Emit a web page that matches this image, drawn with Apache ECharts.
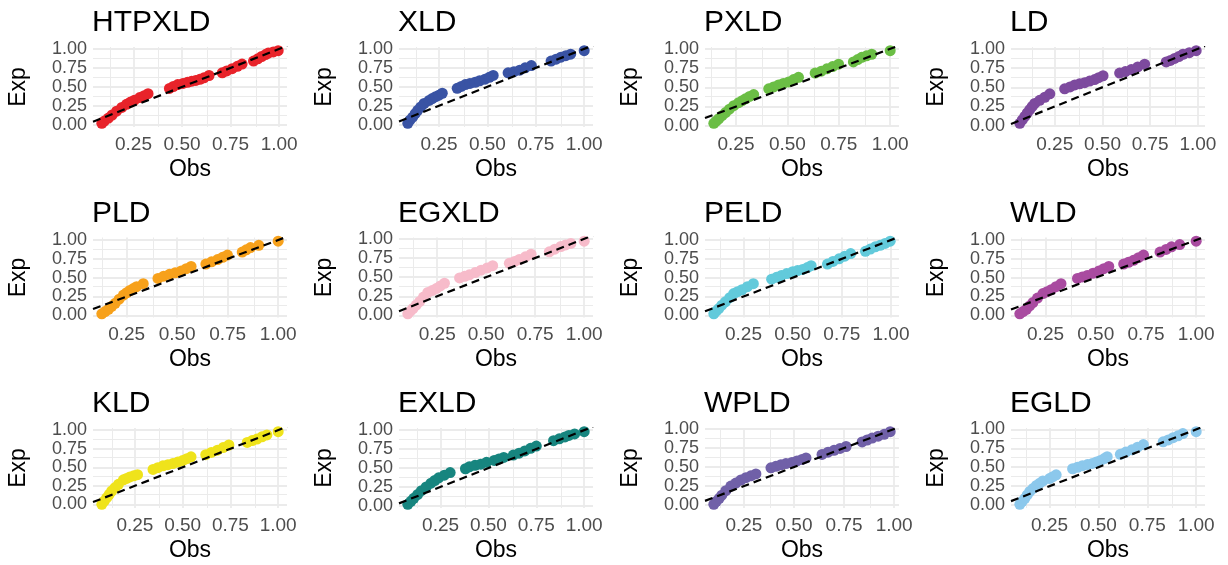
<!DOCTYPE html>
<html>
<head>
    <meta charset="utf-8">
    <title>P-P plots</title>
    <style>
        html, body { margin: 0; padding: 0; background: #fff; }
        #main { width: 1228px; height: 565px; }
    </style>
</head>
<body>
    <div id="main"></div>
    <script src="https://cdn.jsdelivr.net/npm/echarts@6/dist/echarts.min.js"></script>
    <script>
// panel names and point colours
var panelNames = ['HTPXLD', 'XLD', 'PXLD', 'LD', 'PLD', 'EGXLD', 'PELD', 'WLD', 'KLD', 'EXLD', 'WPLD', 'EGLD'];
var panelColors = ['#E8232A', '#3953A4', '#6BBE45', '#7D4A9E', '#F7A11B', '#F7BBCA', '#62CADB', '#A94BA0', '#EFE31B', '#17857F', '#7060A8', '#8CC8EC'];

// tick labels
var xTicks = [0.25, 0.5, 0.75, 1];
var yTicks = [0, 0.25, 0.5, 0.75, 1];

// [Obs, Exp] pairs
var htpxld = [[0.087,0.02],[0.10,0.05],[0.121,0.09],[0.14,0.13],[0.163,0.18],[0.19,0.23],[0.214,0.27],[0.235,0.30],[0.255,0.325],[0.282,0.36],[0.305,0.385],[0.325,0.41],
    [0.435,0.48],[0.455,0.505],[0.478,0.53],[0.505,0.545],[0.528,0.56],[0.55,0.575],[0.571,0.585],[0.592,0.60],[0.613,0.62],[0.639,0.65],
    [0.707,0.685],[0.73,0.71],[0.758,0.74],[0.785,0.77],[0.809,0.80],
    [0.868,0.84],[0.89,0.87],[0.91,0.90],[0.93,0.925],[0.944,0.945],[0.97,0.96],[0.995,0.977]];
var xld = [[0.089,0.018],[0.10,0.06],[0.114,0.10],[0.127,0.145],[0.14,0.19],[0.156,0.235],[0.173,0.28],[0.199,0.32],[0.215,0.345],[0.233,0.37],[0.25,0.39],[0.267,0.415],
    [0.344,0.48],[0.365,0.505],[0.386,0.53],[0.41,0.545],[0.437,0.56],[0.46,0.58],[0.488,0.60],[0.51,0.625],[0.53,0.65],
    [0.607,0.685],[0.637,0.70],[0.667,0.72],[0.695,0.75],[0.727,0.78],
    [0.829,0.84],[0.855,0.865],[0.88,0.89],[0.905,0.91],[0.93,0.93],[1.0,0.977]];
var pxld = [[0.142,0.03],[0.154,0.06],[0.166,0.09],[0.182,0.13],[0.199,0.17],[0.218,0.215],[0.239,0.26],[0.263,0.30],[0.28,0.325],[0.296,0.35],[0.316,0.38],[0.336,0.405],
    [0.409,0.48],[0.433,0.505],[0.457,0.53],[0.48,0.55],[0.506,0.57],[0.53,0.60],[0.554,0.63],
    [0.635,0.685],[0.665,0.71],[0.692,0.74],[0.72,0.77],[0.749,0.80],
    [0.821,0.83],[0.842,0.86],[0.862,0.89],[0.885,0.91],[0.91,0.93],[1.0,0.977]];
var ld = [[0.067,0.03],[0.08,0.075],[0.093,0.12],[0.106,0.165],[0.119,0.21],[0.132,0.25],[0.145,0.29],[0.171,0.33],[0.198,0.37],[0.224,0.415],
    [0.302,0.48],[0.33,0.505],[0.355,0.53],[0.38,0.545],[0.407,0.56],[0.433,0.58],[0.459,0.60],[0.48,0.625],[0.503,0.65],
    [0.59,0.685],[0.62,0.705],[0.651,0.73],[0.685,0.765],[0.721,0.80],
    [0.834,0.83],[0.856,0.85],[0.878,0.875],[0.9,0.90],[0.922,0.93],[0.955,0.95],[0.991,0.977]];
var pld = [[0.127,0.02],[0.143,0.05],[0.16,0.08],[0.176,0.12],[0.193,0.16],[0.213,0.215],[0.234,0.27],[0.25,0.30],[0.266,0.33],[0.283,0.355],[0.299,0.38],[0.332,0.42],
    [0.405,0.49],[0.433,0.52],[0.462,0.545],[0.49,0.565],[0.52,0.59],[0.545,0.62],[0.569,0.65],
    [0.642,0.68],[0.67,0.71],[0.70,0.74],[0.725,0.77],[0.749,0.80],
    [0.822,0.84],[0.842,0.87],[0.863,0.90],[0.904,0.93],[1.0,0.985]];
var egxld = [[0.10,0.02],[0.113,0.055],[0.126,0.09],[0.143,0.135],[0.16,0.18],[0.18,0.24],[0.202,0.30],[0.224,0.325],[0.245,0.35],[0.266,0.385],[0.287,0.42],
    [0.364,0.49],[0.39,0.51],[0.414,0.53],[0.444,0.56],[0.474,0.59],[0.505,0.62],[0.533,0.65],
    [0.618,0.68],[0.645,0.705],[0.669,0.73],[0.70,0.765],[0.729,0.80],
    [0.822,0.83],[0.85,0.865],[0.881,0.90],[0.905,0.92],[0.932,0.94],[1.0,0.97]];
var peld = [[0.099,0.02],[0.111,0.055],[0.124,0.09],[0.14,0.135],[0.158,0.18],[0.18,0.235],[0.20,0.29],[0.22,0.315],[0.242,0.34],[0.27,0.38],[0.30,0.42],
    [0.393,0.48],[0.418,0.505],[0.443,0.53],[0.47,0.555],[0.50,0.58],[0.525,0.595],[0.551,0.61],[0.575,0.635],[0.594,0.66],
    [0.677,0.68],[0.705,0.715],[0.736,0.75],[0.765,0.785],[0.795,0.82],
    [0.87,0.85],[0.895,0.88],[0.92,0.91],[0.945,0.93],[0.97,0.955],[0.996,0.985]];
var wld = [[0.122,0.02],[0.138,0.05],[0.155,0.08],[0.171,0.125],[0.187,0.17],[0.21,0.23],[0.237,0.29],[0.258,0.315],[0.278,0.34],[0.302,0.38],[0.327,0.42],
    [0.409,0.49],[0.433,0.51],[0.458,0.53],[0.487,0.56],[0.516,0.59],[0.54,0.62],[0.565,0.65],
    [0.639,0.68],[0.663,0.705],[0.688,0.73],[0.713,0.765],[0.738,0.80],
    [0.82,0.84],[0.85,0.875],[0.877,0.91],[0.918,0.94],[1.0,0.985]];
var kld = [[0.077,0.0],[0.09,0.045],[0.103,0.09],[0.116,0.135],[0.129,0.18],[0.146,0.225],[0.164,0.27],[0.19,0.33],[0.207,0.35],[0.224,0.37],[0.244,0.385],[0.264,0.40],
    [0.345,0.47],[0.37,0.495],[0.397,0.52],[0.423,0.535],[0.449,0.55],[0.475,0.57],[0.50,0.59],[0.522,0.615],[0.544,0.64],
    [0.621,0.67],[0.65,0.70],[0.682,0.73],[0.712,0.765],[0.742,0.80],
    [0.838,0.835],[0.864,0.86],[0.889,0.88],[0.915,0.91],[0.941,0.935],[1.0,0.98]];
var exld = [[0.079,0.02],[0.095,0.06],[0.11,0.10],[0.13,0.15],[0.15,0.20],[0.175,0.25],[0.20,0.30],[0.22,0.335],[0.24,0.37],[0.27,0.405],[0.30,0.44],
    [0.38,0.49],[0.40,0.515],[0.43,0.535],[0.46,0.55],[0.49,0.575],[0.53,0.60],[0.555,0.62],[0.58,0.64],
    [0.63,0.67],[0.66,0.695],[0.69,0.725],[0.72,0.76],[0.75,0.79],
    [0.84,0.86],[0.87,0.885],[0.90,0.91],[0.92,0.93],[0.95,0.95],[1.0,0.98]];
var wpld = [[0.10,0.01],[0.113,0.05],[0.127,0.09],[0.14,0.13],[0.16,0.19],[0.185,0.25],[0.21,0.29],[0.235,0.33],[0.26,0.36],[0.285,0.385],[0.31,0.41],
    [0.385,0.49],[0.41,0.51],[0.435,0.53],[0.46,0.545],[0.49,0.56],[0.515,0.58],[0.54,0.60],[0.56,0.62],
    [0.64,0.665],[0.67,0.695],[0.70,0.72],[0.73,0.745],[0.76,0.77],
    [0.84,0.83],[0.865,0.855],[0.89,0.88],[0.92,0.905],[0.95,0.93],[0.98,0.965]];
var egld = [[0.098,0.01],[0.111,0.05],[0.124,0.09],[0.136,0.135],[0.149,0.18],[0.166,0.22],[0.183,0.26],[0.2,0.29],[0.216,0.32],[0.25,0.35],[0.267,0.375],[0.284,0.40],
    [0.368,0.48],[0.393,0.50],[0.418,0.52],[0.444,0.535],[0.469,0.55],[0.49,0.57],[0.511,0.59],[0.53,0.615],[0.545,0.64],
    [0.612,0.67],[0.64,0.70],[0.671,0.73],[0.70,0.765],[0.73,0.80],
    [0.831,0.835],[0.857,0.86],[0.882,0.89],[0.907,0.915],[0.932,0.945],[1.0,0.97]];

var panelData = [htpxld, xld, pxld, ld, pld, egxld, peld, wld, kld, exld, wpld, egld];

var FONT = 'Liberation Sans';
var chart = echarts.init(document.getElementById('main'));

// range of a column with ggplot's 5% expansion
function expanded(pts, k) {
    var lo = Infinity, hi = -Infinity;
    pts.forEach(function (p) { lo = Math.min(lo, p[k]); hi = Math.max(hi, p[k]); });
    var pad = (hi - lo) * 0.05;
    return [lo - pad, hi + pad];
}

// grid lines every 0.125, major ones on the quarters
function gridLines(dim, range) {
    var out = [];
    for (var v = 0; v <= 1.0001; v += 0.125) {
        if (v < range[0] || v > range[1]) continue;
        var major = Math.abs(v * 4 - Math.round(v * 4)) < 1e-6;
        var item = { lineStyle: { color: '#EBEBEB', width: major ? 1.8 : 1, type: 'solid' } };
        item[dim] = v;
        out.push(item);
    }
    return out;
}

var grids = [], xAxes = [], yAxes = [], titles = [], series = [];

panelNames.forEach(function (name, i) {
    var col = i % 4, row = Math.floor(i / 4);
    var left = 93 + 306 * col, top = 47 + 190.5 * row;
    var pts = panelData[i];
    var xr = expanded(pts, 0), yr = expanded(pts, 1);

    grids.push({ left: left, top: top, width: 194, height: 80 });
    titles.push({
        text: name, left: left - 1, top: top - 39, padding: 0,
        textStyle: { fontFamily: FONT, fontSize: 30, fontWeight: 'normal', color: '#000' }
    });
    xAxes.push({
        gridIndex: i, type: 'value', min: xr[0], max: xr[1],
        axisLine: { show: false }, axisTick: { show: false }, splitLine: { show: false },
        axisLabel: {
            customValues: xTicks, margin: 8, color: '#4D4D4D', fontFamily: FONT, fontSize: 19,
            formatter: function (v) { return v.toFixed(2); }
        },
        name: 'Obs', nameLocation: 'middle', nameGap: 31,
        nameTextStyle: { fontFamily: FONT, fontSize: 23, color: '#000' }
    });
    yAxes.push({
        gridIndex: i, type: 'value', min: yr[0], max: yr[1],
        axisLine: { show: false }, axisTick: { show: false }, splitLine: { show: false },
        axisLabel: {
            customValues: yTicks, margin: 6, color: '#4D4D4D', fontFamily: FONT, fontSize: 18,
            formatter: function (v) { return v.toFixed(2); }
        },
        name: 'Exp', nameLocation: 'middle', nameGap: 63,
        nameTextStyle: { fontFamily: FONT, fontSize: 23, color: '#000' }
    });
    series.push({
        type: 'scatter', xAxisIndex: i, yAxisIndex: i, data: pts,
        symbolSize: 11, itemStyle: { color: panelColors[i], opacity: 1 }, z: 2,
        markLine: {
            silent: true, symbol: ['none', 'none'], label: { show: false }, z: 0,
            animation: false,
            data: gridLines('xAxis', xr).concat(gridLines('yAxis', yr))
        }
    });
    // reference line y = x across the panel
    series.push({
        type: 'line', xAxisIndex: i, yAxisIndex: i, data: [[xr[0], xr[0]], [xr[1], xr[1]]],
        symbol: 'none', z: 3, silent: true,
        lineStyle: { color: '#000', width: 2.2, type: [8, 5] }
    });
});

var option = {
    backgroundColor: '#fff',
    animation: false,
    title: titles,
    grid: grids,
    xAxis: xAxes,
    yAxis: yAxes,
    series: series
};
chart.setOption(option);
window.addEventListener('resize', function () { chart.resize(); });
    </script>
</body>
</html>
